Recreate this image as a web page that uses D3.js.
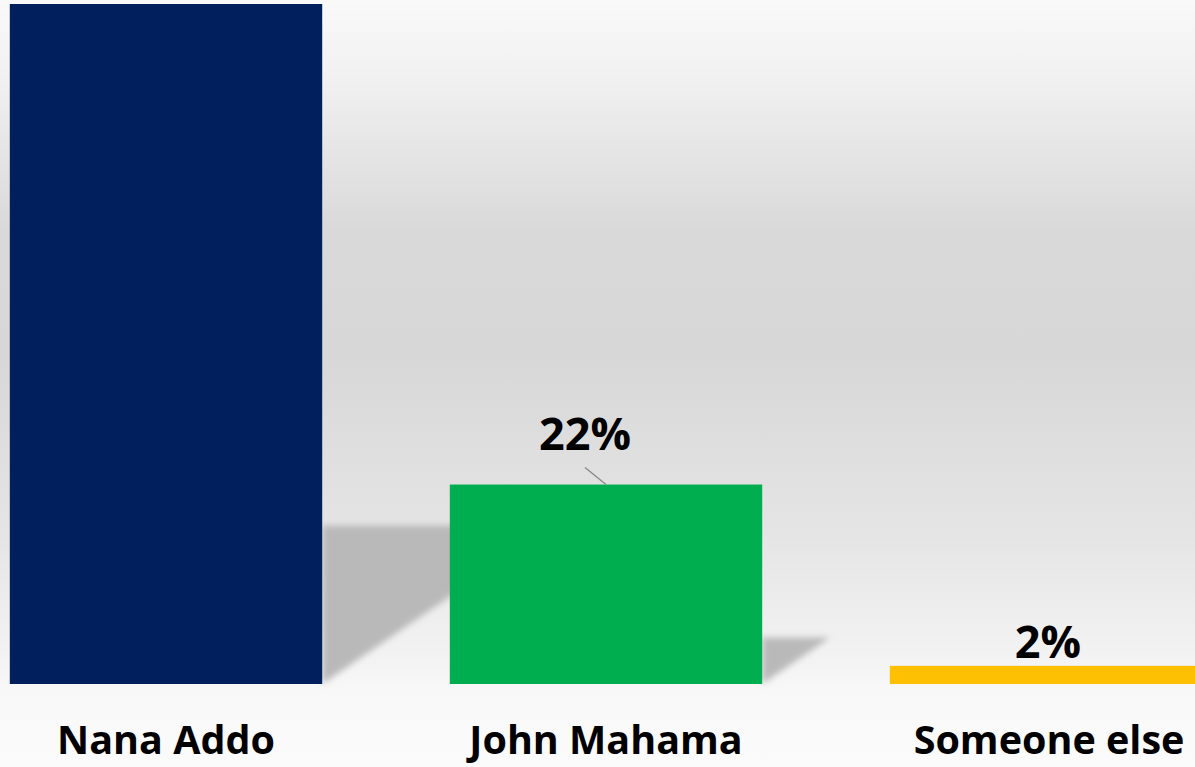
<!DOCTYPE html>
<html>
<head>
<meta charset="utf-8">
<script src="https://cdn.jsdelivr.net/npm/d3@7"></script>
<style>
  html, body { margin: 0; padding: 0; background: #fafafa; overflow: hidden; }
  svg { display: block; }
  text { font-family: "Open Sans", sans-serif; font-weight: 700; fill: #000; }
</style>
</head>
<body>
<svg id="chart" width="1195" height="767"></svg>
<script>
// candidates and their share (%)
var categories = ["Nana Addo", "John Mahama", "Someone else"];
var values = [75, 22, 2];
var colors = ["#001f5c", "#00ae4f", "#fdc003"];
// the first bar's label sits off the top of the slide, so it is not shown
var valueLabels = ["", "22%", "2%"];

var width = 1195, height = 767;
var baseY = 684;

var svg = d3.select("#chart");
var defs = svg.append("defs");

// background wash
var grad = defs.append("linearGradient")
	.attr("id", "bg")
	.attr("x1", 0).attr("y1", 0).attr("x2", 0).attr("y2", 1);
[[0, "#f9f9f9"], [0.1, "#f1f1f1"], [0.3, "#d9d9d9"], [0.46, "#d7d7d7"],
 [0.7, "#e5e5e5"], [0.87, "#f4f4f4"], [0.9, "#f8f8f8"], [1, "#fbfbfb"]].forEach(function(s){
	grad.append("stop").attr("offset", s[0]).attr("stop-color", s[1]);
});
svg.append("rect").attr("width", width).attr("height", height).attr("fill", "url(#bg)");

defs.append("filter").attr("id", "blur")
	.attr("x", "-20%").attr("y", "-20%").attr("width", "140%").attr("height", "140%")
	.append("feGaussianBlur").attr("stdDeviation", 3);

var x = d3.scaleBand()
	.domain(categories)
	.range([-54, 1266])
	.paddingInner(0.29)
	.paddingOuter(0.145);

var y = d3.scaleLinear()
	.domain([0, 75])
	.range([baseY, 4]);

var data = categories.map(function(c, i){
	return {name: c, value: values[i], color: colors[i], label: valueLabels[i]};
});

// cast shadows behind bars
svg.append("g").selectAll("path")
	.data(data)
	.enter()
	.append("path")
	.attr("fill", "#b9b9b9")
	.attr("filter", "url(#blur)")
	.attr("d", function(d){
		var x1 = x(d.name) + x.bandwidth();
		var h = baseY - y(d.value);
		var top = baseY - 0.233 * h;
		return "M" + x1 + "," + top + "L" + (x1 + 0.34 * h) + "," + top + "L" + x1 + "," + baseY + "Z";
	});

svg.append("g").selectAll("rect")
	.data(data)
	.enter()
	.append("rect")
	.attr("x", function(d){ return x(d.name); })
	.attr("y", function(d){ return y(d.value); })
	.attr("width", x.bandwidth())
	.attr("height", function(d){ return baseY - y(d.value); })
	.attr("fill", function(d){ return d.color; });

// leader line for the moved 22% label
var jm = data[1];
svg.append("line")
	.attr("x1", x(jm.name) + x.bandwidth() / 2 - 21)
	.attr("y1", y(jm.value) - 17)
	.attr("x2", x(jm.name) + x.bandwidth() / 2)
	.attr("y2", y(jm.value))
	.attr("stroke", "#8c8c8c")
	.attr("stroke-width", 1.5);

// value labels (offset of each label from the bar top centre)
var labelOffsets = [[0, -6], [-21, -35], [2, -8]];
svg.append("g").selectAll("text")
	.data(data.filter(function(d){ return d.label; }))
	.enter()
	.append("text")
	.attr("text-anchor", "middle")
	.attr("font-size", 45)
	.attr("x", function(d){ var i = categories.indexOf(d.name); return x(d.name) + x.bandwidth() / 2 + labelOffsets[i][0]; })
	.attr("y", function(d){ var i = categories.indexOf(d.name); return y(d.value) + labelOffsets[i][1]; })
	.text(function(d){ return d.label; });

// category labels
svg.append("g").selectAll("text")
	.data(data)
	.enter()
	.append("text")
	.attr("text-anchor", "middle")
	.attr("font-size", 39.5)
	.attr("x", function(d, i){ return x(d.name) + x.bandwidth() / 2 + (i == 2 ? 3 : 0); })
	.attr("y", 754)
	.text(function(d){ return d.name; });
</script>
</body>
</html>
